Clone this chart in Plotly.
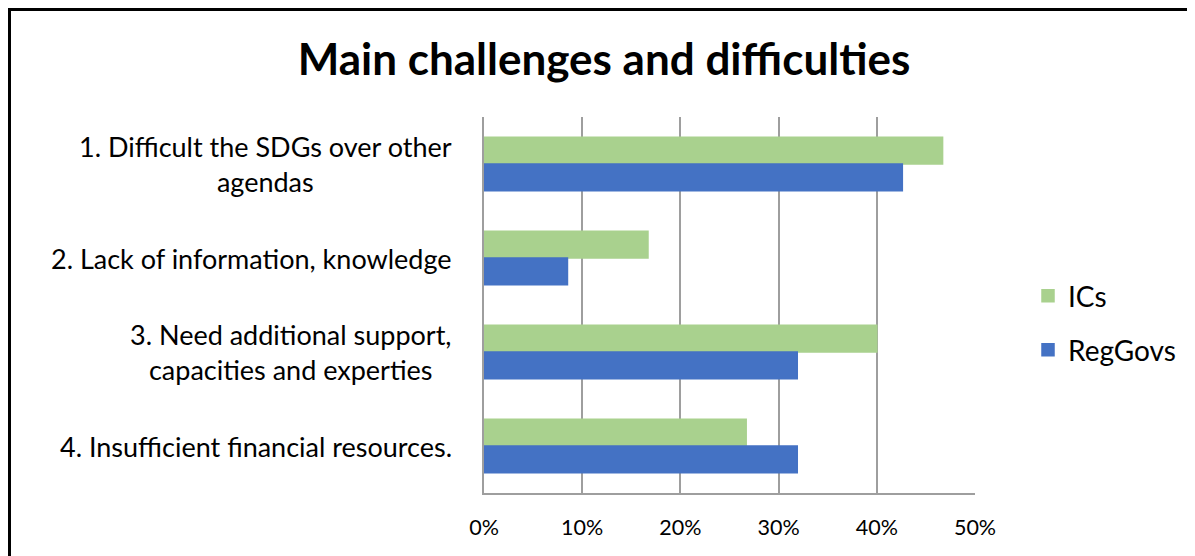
import plotly.graph_objects as go

categories = [
    "1. Difficult the SDGs over other<br>agendas",
    "2. Lack of information, knowledge",
    "3. Need additional support,<br>capacities and experties",
    "4. Insufficient financial resources.",
]
cat_ids = ["c1", "c2", "c3", "c4"]
ics = [0.467, 0.167, 0.400, 0.267]
reggovs = [0.426, 0.085, 0.319, 0.319]
x_ticks = [0, 0.1, 0.2, 0.3, 0.4, 0.5]

FONT = "Lato, 'Open Sans', sans-serif"
GREEN = "#A9D18E"
BLUE = "#4472C4"
# page body has an 8px margin; figure coordinates = page coordinates - 8
OFF = 8
W, H = 1195 - OFF, 556 - OFF
ML, MR, MT, MB = 484 - OFF, W - (975 - OFF), 117 - OFF, H - (493 - OFF)
PW, PH = W - ML - MR, H - MT - MB


def px_x(p):
    return (p - OFF - ML) / PW


def px_y(p):
    return 1 - (p - OFF - MT) / PH


fig = go.Figure()
fig.add_trace(go.Bar(y=cat_ids, x=ics, name="ICs", orientation="h", showlegend=True,
                     marker=dict(color=GREEN, line=dict(width=1.5, color=GREEN)), legend="legend"))
fig.add_trace(go.Bar(y=cat_ids, x=reggovs, name="RegGovs", orientation="h", showlegend=True,
                     marker=dict(color=BLUE, line=dict(width=1.5, color=BLUE)), legend="legend2"))

annotations = []
for cid, lab in zip(cat_ids, categories):
    annotations.append(dict(x=px_x(454), xref="paper", y=cid, yref="y",
                            text=lab, showarrow=False, xanchor="right", yanchor="middle",
                            align="center", font=dict(family=FONT, size=27, color="#000000")))

shapes = [
    dict(type="line", xref="paper", yref="paper", x0=px_x(9.5), x1=px_x(9.5),
         y0=px_y(8), y1=px_y(570), line=dict(color="black", width=3)),
    dict(type="line", xref="paper", yref="paper", x0=px_x(8), x1=px_x(1210),
         y0=px_y(9.5), y1=px_y(9.5), line=dict(color="black", width=3)),
]

fig.update_layout(
    width=W, height=H,
    margin=dict(l=ML, r=MR, t=MT, b=MB),
    paper_bgcolor="white", plot_bgcolor="white",
    showlegend=True,
    title=dict(text="<b>Main challenges and difficulties</b>", x=(604 - OFF) / W, xref="container",
               xanchor="center", y=1 - (60 - OFF) / H, yref="container", yanchor="middle",
               font=dict(family=FONT, size=44, color="#000000")),
    barmode="group", bargap=0.43, bargroupgap=0,
    font=dict(family=FONT, color="#000000"),
    xaxis=dict(range=[0, 0.5], tickvals=x_ticks, tickformat=".0%",
               showgrid=True, gridcolor="#9E9E9E", gridwidth=1.5,
               showline=True, linecolor="#9E9E9E", linewidth=1.5, mirror=False,
               zeroline=False, ticks="", ticklabelstandoff=14,
               tickfont=dict(family=FONT, size=21.5, color="#000000")),
    yaxis=dict(categoryorder="array", categoryarray=cat_ids, autorange="reversed",
               showticklabels=False, showgrid=False, showline=True,
               linecolor="#9E9E9E", linewidth=1.5, zeroline=False, ticks=""),
    legend=dict(x=px_x(1028), y=px_y(296), xanchor="left", yanchor="middle",
                font=dict(family=FONT, size=28, color="#000000"),
                bgcolor="rgba(0,0,0,0)", itemwidth=30),
    legend2=dict(x=px_x(1028), y=px_y(350), xanchor="left", yanchor="middle",
                 font=dict(family=FONT, size=28, color="#000000"),
                 bgcolor="rgba(0,0,0,0)", itemwidth=30),
    annotations=annotations,
    shapes=shapes,
)

fig.write_html("out.html")
